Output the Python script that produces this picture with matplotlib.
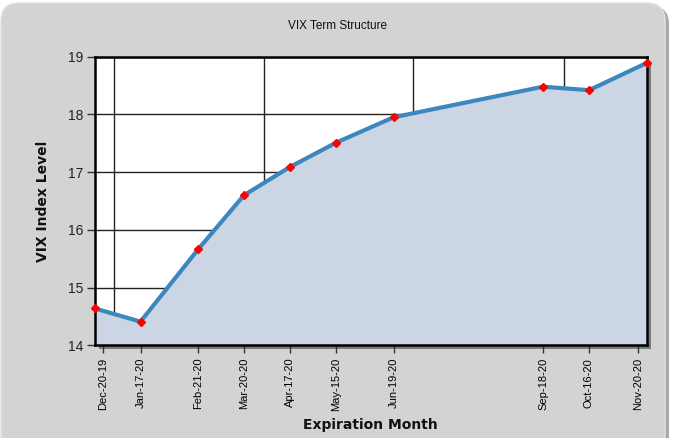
import matplotlib
matplotlib.use('Agg')
import matplotlib.pyplot as plt
from matplotlib.patches import FancyBboxPatch, Rectangle
from matplotlib.transforms import IdentityTransform
from datetime import datetime, timedelta

# dados
expiracoes = ['2019-12-20', '2020-01-17', '2020-02-21', '2020-03-20', '2020-04-17',
              '2020-05-15', '2020-06-19', '2020-09-18', '2020-10-16', '2020-11-20']
vix = [14.64, 14.41, 15.66, 16.60, 17.09, 17.51, 17.95, 18.48, 18.42, 18.89]
rotulos = ['Dec-20-19', 'Jan-17-20', 'Feb-21-20', 'Mar-20-20', 'Apr-17-20',
           'May-15-20', 'Jun-19-20', 'Sep-18-20', 'Oct-16-20', 'Nov-20-20']
grade_x = ['2020-01-01', '2020-04-01', '2020-07-01', '2020-10-01']
niveis_y = [14, 15, 16, 17, 18, 19]

datas = [datetime.strptime(d, '%Y-%m-%d') for d in expiracoes]
datas_grade = [datetime.strptime(d, '%Y-%m-%d') for d in grade_x]

# os ticks das pontas ficam um pouco para dentro, como no original
desvio = timedelta(days=5)
pos_ticks = list(datas)
pos_ticks[0] = pos_ticks[0] + desvio
pos_ticks[-1] = pos_ticks[-1] - desvio

W, H = 674, 438
fig = plt.figure(figsize=(W / 100, H / 100), dpi=100)
fig.patch.set_facecolor('white')

# painel cinza com cantos arredondados e sombra
sombra_painel = FancyBboxPatch((5, -30), 664, 462, boxstyle='round,pad=0,rounding_size=18',
                               transform=IdentityTransform(), facecolor='#a9a9a9',
                               edgecolor='none', zorder=-3)
painel = FancyBboxPatch((1, -30), 664, 465, boxstyle='round,pad=0,rounding_size=18',
                        transform=IdentityTransform(), facecolor='#d3d3d3',
                        edgecolor='#e2e2e2', linewidth=1, zorder=-2)
fig.patches.extend([sombra_painel, painel])

ax = fig.add_axes([94.5 / W, 92.7 / H, 552 / W, 288.6 / H])
ax.set_facecolor('white')
ax.set_zorder(2)

# sombra do grafico
x0, y0 = 94.5, 92.7
sombra = Rectangle((x0 + 4, y0 - 4), 552, 288.6, transform=IdentityTransform(),
                   facecolor='#7c7c7c', edgecolor='none', zorder=-1)
fig.patches.append(sombra)

ax.fill_between(datas, vix, niveis_y[0], color='#cbd5e3', zorder=1)
ax.plot(datas, vix, color='#3d87bf', linewidth=3, solid_capstyle='round', zorder=3)
ax.plot(datas, vix, linestyle='none', marker='D', markersize=4.5,
        markerfacecolor='red', markeredgecolor='red', zorder=6, clip_on=False)

ax.set_xlim(datas[0], datas[-1])
ax.set_ylim(niveis_y[0], niveis_y[-1])
ax.set_yticks(niveis_y)
ax.set_xticks(pos_ticks)
ax.set_xticklabels(rotulos, rotation=90, fontsize=8, family='Liberation Sans')
ax.set_xticks(datas_grade, minor=True)
ax.tick_params(axis='x', which='minor', length=0)
ax.tick_params(axis='x', which='major', length=6, width=1, color='#333333', pad=3)
ax.tick_params(axis='y', length=6, width=1, color='#333333', pad=2, labelsize=10)
for t in ax.get_yticklabels():
    t.set_family('Liberation Sans')
    t.set_color('#222222')

ax.grid(axis='x', which='minor', color='#222222', linewidth=1)
ax.grid(axis='y', which='major', color='#222222', linewidth=1)
ax.set_axisbelow(True)
for s in ax.spines.values():
    s.set_linewidth(1.8)
    s.set_color('black')
    s.set_zorder(5)

fig.text(337 / W, 1 - 26 / H, 'VIX Term Structure', ha='center', va='center',
         fontsize=8.5, family='Liberation Sans', color='#111111')
fig.text(370.5 / W, 1 - 425 / H, 'Expiration Month', ha='center', va='center',
         fontsize=10, fontweight='bold', color='#111111')
fig.text(43 / W, 1 - 201 / H, 'VIX Index Level', ha='center', va='center',
         rotation=90, fontsize=10, fontweight='bold', color='#111111')

fig.savefig('out.png', dpi=100)
